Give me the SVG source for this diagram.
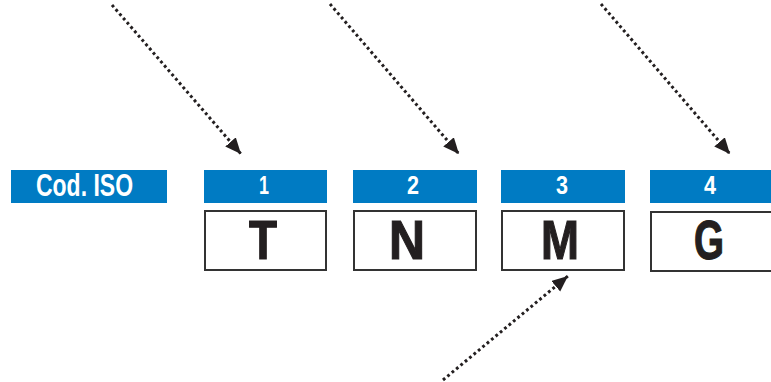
<svg xmlns="http://www.w3.org/2000/svg" width="771" height="382" viewBox="0 0 771 382">
<style>
.bar{fill:#007bc3}
.box{fill:#fff;stroke:#333;stroke-width:2}
.num{font-family:"Liberation Sans",Arial,sans-serif;font-size:25px;font-weight:bold;fill:#fff;text-anchor:middle}
.lbl{font-family:"Liberation Sans",Arial,sans-serif;font-size:32px;font-weight:bold;fill:#fff}
.let{font-family:"Liberation Sans",Arial,sans-serif;font-size:55px;font-weight:bold;fill:#231f20;stroke:#231f20;stroke-width:1.2;text-anchor:middle}
.arr{fill:none;stroke:#231f20;stroke-width:3;stroke-dasharray:2.8 2.9;marker-end:url(#ah)}
</style>
<defs>
<marker id="ah" markerUnits="userSpaceOnUse" markerWidth="18" markerHeight="16" refX="16" refY="7" orient="auto">
<path d="M0,0 L16,7 L0,14 Z" fill="#231f20"/>
</marker>
</defs>
<rect width="771" height="382" fill="#fff"/>
<g id="iso">
<rect class="bar" x="11" y="170" width="156" height="33"/>
<text class="lbl" x="36" y="196" textLength="97" lengthAdjust="spacingAndGlyphs">Cod. ISO</text>
</g>
<g id="node1">
<rect class="bar" x="204" y="170" width="123" height="33"/>
<text class="num" x="264" y="194" textLength="10" lengthAdjust="spacingAndGlyphs">1</text>
<rect class="box" x="205" y="211" width="121" height="59"/>
<text class="let" x="263" y="259" textLength="28" lengthAdjust="spacingAndGlyphs">T</text>
</g>
<g id="node2">
<rect class="bar" x="353" y="170" width="124" height="33"/>
<text class="num" x="413" y="194" textLength="12" lengthAdjust="spacingAndGlyphs">2</text>
<rect class="box" x="354" y="211" width="122" height="59"/>
<text class="let" x="407" y="259" textLength="36" lengthAdjust="spacingAndGlyphs">N</text>
</g>
<g id="node3">
<rect class="bar" x="501" y="170" width="124" height="33"/>
<text class="num" x="562" y="194" textLength="12" lengthAdjust="spacingAndGlyphs">3</text>
<rect class="box" x="502" y="211" width="122" height="59"/>
<text class="let" x="560" y="259" textLength="38" lengthAdjust="spacingAndGlyphs">M</text>
</g>
<g id="node4">
<rect class="bar" x="650" y="170" width="125" height="33"/>
<text class="num" x="710" y="194" textLength="12" lengthAdjust="spacingAndGlyphs">4</text>
<rect class="box" x="651" y="212" width="124" height="59"/>
<text class="let" x="709" y="259" textLength="30" lengthAdjust="spacingAndGlyphs">G</text>
</g>
<g id="connectors">
<line class="arr" x1="112" y1="5" x2="241" y2="154"/>
<line class="arr" x1="330" y1="4" x2="459" y2="154"/>
<line class="arr" x1="601" y1="4" x2="730" y2="154"/>
<line class="arr" x1="443" y1="380" x2="568" y2="276"/>
</g>
</svg>
